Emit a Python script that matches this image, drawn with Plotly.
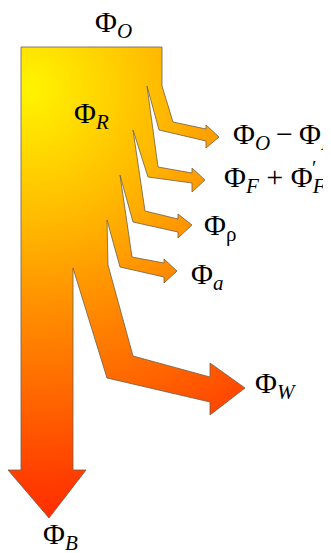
import plotly.graph_objects as go

# ---------------- data ----------------
flow_labels = [
    "Φ<sub><i>O</i></sub>\u2009−\u2009Φ<sub><i>F</i></sub>",
    "Φ<sub><i>F</i></sub> + Φ<sub><i>F</i></sub>",
    "Φ<sub>ρ</sub>",
    "Φ<sub><i>a</i></sub>",
    "Φ<sub><i>W</i></sub>",
]
flow_widths = [15, 14, 13, 13, 34]      # branch widths where they leave the stream
bottom_width = 52                        # remaining stream Φ_B
inflow_label = "Φ<sub><i>O</i></sub>"
stream_label = "Φ<sub><i>R</i></sub>"
outflow_label = "Φ<sub><i>B</i></sub>"

# ---------------- geometry (layout) ----------------
X_LEFT, Y_TOP = 21, 47
split_y = [86, 130, 175, 220, 268]
outer_kink = [None, None, None, None, (108, 265)]
outer_bend = [(173, 122), (158, 167), (145, 211), (132, 257), (133, 356)]
inner_bend = [(159, 130), (148, 177), (133, 222), (120, 267), (107, 378)]
head_x = [206, 192, 178, 164, 210]
shaft_top = [129, 173, 219, 263, 377]
shaft_bot = [141, 183, 232, 277, 402]
head_top = [125, 168, 214, 259, 363]
head_bot = [148, 192, 238, 283, 415]
tips = [(219, 137), (205, 180), (192, 225), (177, 271), (245, 388)]
B_head_y, B_head_ext, B_tip = 470, 13, (49, 518)

label_pos = [(231, 136), (222, 179), (202, 227), (189, 276), (253, 385)]
inflow_pos, stream_pos, outflow_pos = (93, 24), (72, 115), (41, 536)

# page offset of the plot div (browser default body margin)
OFF = 8
W, H = 331, 553

# ---------------- build outline ----------------
x_right = X_LEFT + sum(flow_widths) + bottom_width
pts = [(X_LEFT, Y_TOP), (x_right, Y_TOP), (x_right, split_y[0])]
x_prev = x_right
spike_after = None
for k, w in enumerate(flow_widths):
    x_split = x_prev - w
    if outer_kink[k]:
        pts.append(outer_kink[k])
    pts += [outer_bend[k], (head_x[k], shaft_top[k]), (head_x[k], head_top[k]), tips[k]]
    if k == len(flow_widths) - 1:
        spike_after = len(pts) - 1
    pts += [(head_x[k], head_bot[k]), (head_x[k], shaft_bot[k]), inner_bend[k], (x_split, split_y[k])]
    x_prev = x_split
pts += [(x_prev, B_head_y), (x_prev + B_head_ext, B_head_y), B_tip,
        (X_LEFT - B_head_ext, B_head_y), (X_LEFT, B_head_y), (X_LEFT, Y_TOP)]

# radial gradient centre / radius (square bounding box via zero-area spikes)
cx, cy, R = 28, 88, 470
fill_pts = [pts[0], (cx - R, cy - R), pts[0]] + pts[1:spike_after + 1] + \
           [(cx + R, cy + R), pts[spike_after]] + pts[spike_after + 1:]

fig = go.Figure()
fig.add_trace(go.Scatter(
    x=[p[0] for p in fill_pts], y=[p[1] for p in fill_pts],
    mode="lines", fill="toself", line=dict(width=0, simplify=False),
    fillgradient=dict(type="radial", colorscale=[
        [0.0, "#FFF500"], [0.28, "#FFBB00"], [0.43, "#FF9800"],
        [0.66, "#FF6600"], [0.85, "#FF3A00"], [1.0, "#FF1E00"]]),
    hoverinfo="skip", showlegend=False))
fig.add_trace(go.Scatter(
    x=[p[0] for p in pts], y=[p[1] for p in pts],
    mode="lines", line=dict(width=1, color="rgba(110,95,75,0.8)", simplify=False),
    hoverinfo="skip", showlegend=False))

font = dict(family="Liberation Serif, Times New Roman, serif", size=30, color="black")
anns = []
def add(text, pos, size=30):
    f = dict(font); f["size"] = size
    anns.append(dict(x=pos[0], y=pos[1], text=text, xref="x", yref="y",
                     xanchor="left", yanchor="middle", showarrow=False, font=f))
for lab, pos in zip(flow_labels, label_pos):
    add(lab, pos)
add(inflow_label, inflow_pos)
add(stream_label, stream_pos)
add(outflow_label, outflow_pos)
add("′", (310, 168), 20)

fig.update_layout(
    width=W, height=H, margin=dict(l=0, r=0, t=0, b=0),
    paper_bgcolor="white", plot_bgcolor="white",
    xaxis=dict(range=[OFF, OFF + W], visible=False, fixedrange=True),
    yaxis=dict(range=[OFF + H, OFF], visible=False, fixedrange=True),
    annotations=anns, showlegend=False)
fig.write_html("out.html")
